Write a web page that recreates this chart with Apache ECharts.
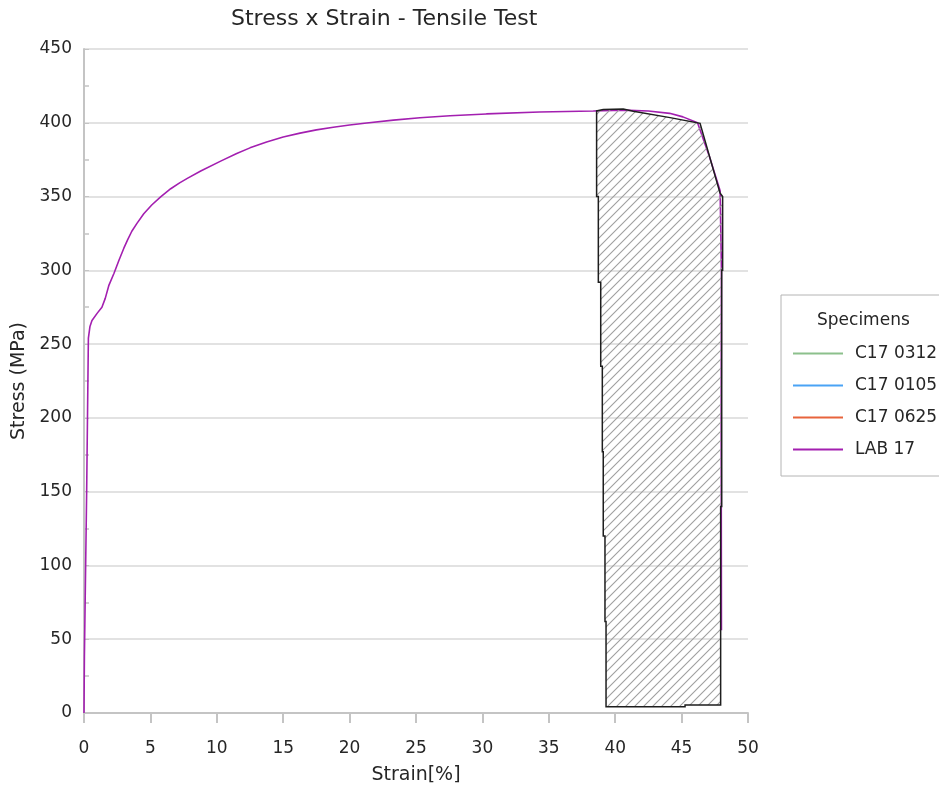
<!DOCTYPE html>
<html>
<head>
<meta charset="utf-8">
<script src="https://cdn.jsdelivr.net/npm/echarts@6/dist/echarts.min.js"></script>
<style>
  html, body { margin: 0; padding: 0; background: #fff; }
  #chart { width: 939px; height: 789px; }
</style>
</head>
<body>
<div id="chart"></div>
<script type="text/javascript">
    // specimen names shown in the legend
    var specimens = ['C17 0312', 'C17 0105', 'C17 0625', 'LAB 17'];
    var specimenColors = ['#8cc08c', '#4aa3f5', '#e8643c', '#a31fb0'];

    // LAB 17 curve: [strain %, stress MPa]
    var lab17 = [
        [0, 0], [0.03, 38], [0.15, 39], [0.2, 150], [0.33, 254], [0.45, 262],
        [0.6, 266], [1.0, 271], [1.35, 275], [1.6, 281], [1.88, 290],
        [2.26, 298], [2.64, 307], [3.0, 315], [3.3, 321], [3.6, 326.5],
        [4.0, 332], [4.5, 338.3], [5.1, 344.3], [5.77, 349.8], [6.53, 355.3],
        [7.2, 359.3], [7.78, 362.3], [8.79, 367.3], [10.29, 374], [11.5, 379.2],
        [12.5, 383], [13.75, 387], [15, 390.3], [16.27, 393], [17.5, 395.2],
        [18.77, 397], [20, 398.5], [21.29, 399.8], [23.3, 401.8], [25.3, 403.4],
        [27.56, 404.8], [30.3, 406], [34.3, 407.3], [38.35, 408],
        [40.6, 408.6], [42.5, 408], [44.1, 406.4], [45.1, 404], [46.2, 400],
        [47.1, 377], [47.9, 354], [48.0, 300], [47.98, 200], [48.0, 56]
    ];

    // hatched region outline: [strain %, stress MPa]
    var hatchArea = [
        [38.6, 408], [38.6, 350], [38.73, 350], [38.73, 292], [38.91, 292],
        [38.91, 235], [39.03, 235], [39.03, 177], [39.1, 177], [39.1, 120],
        [39.23, 120], [39.23, 62], [39.31, 62], [39.31, 4.3], [45.26, 4.3],
        [45.26, 5.4], [47.94, 5.4], [47.94, 140], [48.02, 140], [48.02, 300],
        [48.09, 300], [48.09, 350], [47.89, 352.5], [46.39, 399.6],
        [44.13, 403.5], [41.36, 407.8], [40.61, 409.3], [39.1, 409], [38.6, 408]
    ];

    var xTicks = { min: 0, max: 50, step: 5 };
    var yTicks = { min: 0, max: 450, step: 50 };

    var FONT = 'DejaVu Sans';
    var TXT = '#262626';

    // diagonal hatch tile
    var tile = document.createElement('canvas');
    tile.width = 9; tile.height = 9;
    var ctx = tile.getContext('2d');
    ctx.strokeStyle = '#9f9f9f';
    ctx.lineWidth = 1.1;
    ctx.beginPath();
    ctx.moveTo(-1, 10); ctx.lineTo(10, -1);
    ctx.moveTo(-1, 1); ctx.lineTo(1, -1);
    ctx.moveTo(8, 10); ctx.lineTo(10, 8);
    ctx.stroke();

    var series = [];
    for (var i = 0; i < 3; i++) {
        series.push({
            name: specimens[i], type: 'line', data: [], showSymbol: false,
            itemStyle: { color: specimenColors[i] },
            lineStyle: { color: specimenColors[i], width: 1.5 }
        });
    }
    series.push({
        name: specimens[3], type: 'line', data: lab17, showSymbol: false,
        symbol: 'none', animation: false, z: 2,
        itemStyle: { color: specimenColors[3] },
        lineStyle: { color: specimenColors[3], width: 1.6 }
    });
    series.push({
        type: 'custom', silent: true, animation: false, z: 5,
        data: [[0, 0]],
        renderItem: function (params, api) {
            var pts = hatchArea.map(function (p) { return api.coord(p); });
            return {
                type: 'polygon',
                shape: { points: pts },
                style: {
                    fill: { image: tile, repeat: 'repeat' },
                    stroke: '#1e1e1e',
                    lineWidth: 1.5
                }
            };
        }
    });

    var option = {
        animation: false,
        textStyle: { fontFamily: FONT },
        title: [{
            text: 'Stress x Strain - Tensile Test',
            left: 226, top: 3,
            textStyle: { fontFamily: FONT, fontSize: 22, fontWeight: 'normal', color: TXT }
        }, {
            text: 'Specimens',
            left: 817, top: 312, padding: 0,
            textStyle: { fontFamily: FONT, fontSize: 17, fontWeight: 'normal', color: TXT }
        }],
        legend: {
            data: specimens,
            orient: 'vertical',
            left: 781, top: 295,
            padding: [50, 30, 18, 12],
            itemGap: 15,
            itemWidth: 50,
            itemHeight: 2,
            icon: 'rect',
            borderColor: '#b4b4b4',
            borderWidth: 1,
            textStyle: { fontFamily: FONT, fontSize: 17, color: TXT, padding: [0, 0, 0, 7] }
        },
        grid: { left: 84, right: 191, top: 49, bottom: 76, outerBoundsMode: 'none' },
        xAxis: {
            type: 'value',
            min: xTicks.min, max: xTicks.max, interval: xTicks.step,
            name: 'Strain[%]', nameLocation: 'middle', nameGap: 53,
            nameTextStyle: { fontFamily: FONT, fontSize: 19, color: TXT },
            axisLine: { show: true, lineStyle: { color: '#c4c4c4', width: 2 } },
            axisTick: { show: true, length: 10, lineStyle: { color: '#c4c4c4', width: 2 } },
            axisLabel: { fontFamily: FONT, fontSize: 17, color: TXT, margin: 27 },
            splitLine: { show: false }
        },
        yAxis: {
            type: 'value',
            min: yTicks.min, max: yTicks.max, interval: yTicks.step,
            name: 'Stress (MPa)', nameLocation: 'middle', nameGap: 52, nameRotate: 90,
            nameTextStyle: { fontFamily: FONT, fontSize: 19, color: TXT },
            axisLine: { show: true, lineStyle: { color: '#c4c4c4', width: 2 } },
            axisTick: { show: true, inside: true, length: 5, lineStyle: { color: '#c4c4c4' } },
            minorTick: { show: true, splitNumber: 2, length: 5, lineStyle: { color: '#c4c4c4', width: 1.5 } },
            axisLabel: { fontFamily: FONT, fontSize: 17, color: TXT, margin: 12 },
            splitLine: { show: true, lineStyle: { color: '#d8d8d8', width: 1.5 } }
        },
        series: series
    };

    var chart = echarts.init(document.getElementById('chart'));
    chart.setOption(option);
</script>
</body>
</html>
